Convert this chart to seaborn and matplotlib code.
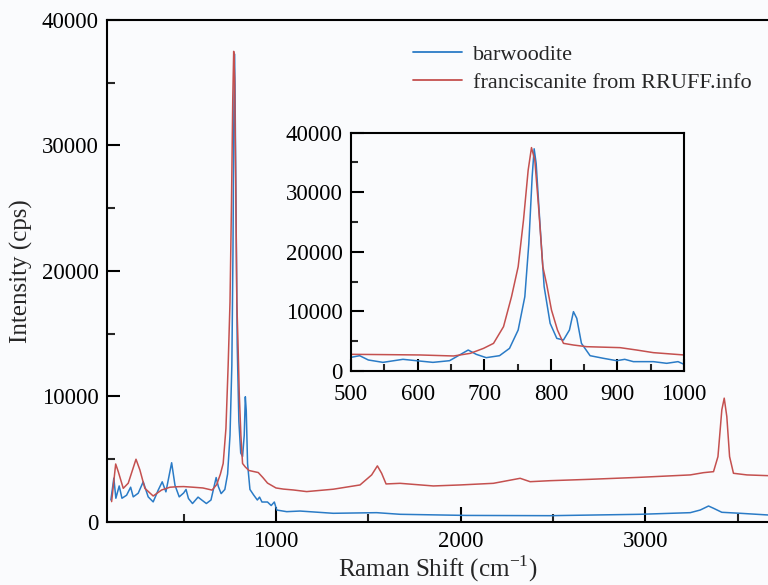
import matplotlib
matplotlib.use("Agg")
import matplotlib.pyplot as plt
import seaborn as sns
import pandas as pd
from matplotlib.ticker import MultipleLocator
from matplotlib.lines import Line2D

# ---- data ----
blue_x = [106, 122, 133, 151, 166, 191, 213, 227, 254, 281, 308, 335, 362, 384, 404, 435, 453, 476,
          500, 513, 526, 548, 578, 598, 623, 648, 663, 676, 688, 703, 723, 738, 751, 761, 767, 772,
          775, 778, 784, 790, 799, 809, 819, 828, 834, 839, 846, 859, 879, 899, 911, 924, 954, 974,
          991, 1004, 1058, 1130, 1310, 1545, 1672, 2033, 2484, 2972, 3243, 3297, 3342, 3369, 3414,
          3514, 3665]
blue_y = [1730, 3470, 1870, 2850, 1870, 2110, 2750, 1980, 2270, 3180, 1980, 1580, 2510, 3180, 2380,
          4700, 2910, 1980, 2290, 2570, 1850, 1450, 1960, 1730, 1450, 1730, 2690, 3520, 2800, 2240,
          2570, 3800, 6880, 12470, 21400, 32600, 37300, 34850, 24200, 14150, 8000, 5480, 5200, 6880,
          9960, 8840, 4640, 2570, 2130, 1730, 1960, 1570, 1570, 1290, 1570, 930, 800, 850, 670, 720,
          590, 500, 480, 590, 720, 930, 1250, 1070, 750, 670, 535]

red_x = [110, 132, 146, 173, 200, 242, 263, 290, 335, 381, 426, 470, 500, 550, 604, 654, 679, 699,
         714, 729, 741, 751, 759, 766, 771, 776, 782, 788, 794, 801, 810, 819, 834, 854, 904, 929,
         954, 1000, 1040, 1094, 1166, 1310, 1455, 1518, 1549, 1572, 1596, 1672, 1852, 1997, 2177,
         2322, 2376, 2484, 2701, 2972, 3243, 3315, 3369, 3393, 3414, 3427, 3441, 3456, 3477, 3550,
         3665]
red_y = [1600, 4600, 3990, 2660, 3070, 4980, 4130, 2660, 2050, 2530, 2750, 2790, 2800, 2750, 2690,
         2520, 2960, 3800, 4640, 7440, 12470, 17510, 25340, 33700, 37500, 35400, 27020, 17510, 14430,
         10240, 6880, 4640, 4360, 4080, 3920, 3520, 3080, 2690, 2600, 2530, 2400, 2590, 2930, 3730,
         4450, 3860, 3010, 3060, 2850, 2930, 3060, 3460, 3190, 3270, 3380, 3540, 3730, 3910, 3990,
         5190, 8920, 9850, 8380, 5190, 3860, 3730, 3670]

series_names = ["barwoodite", "franciscanite from RRUFF.info"]
colors = ["#2a7bc6", "#c4504f"]

df = pd.concat([
    pd.DataFrame({"x": blue_x, "y": blue_y, "s": series_names[0]}),
    pd.DataFrame({"x": red_x, "y": red_y, "s": series_names[1]}),
], ignore_index=True)

sns.set_theme(style="ticks")
plt.rcParams["font.family"] = ["Liberation Serif", "DejaVu Serif"]
plt.rcParams["mathtext.fontset"] = "custom"
plt.rcParams["mathtext.rm"] = "Liberation Serif"

bg = "#fafbfd"
TICK_FS = 16.5
fig = plt.figure(figsize=(7.68, 5.85), dpi=100, facecolor=bg)

ax = fig.add_axes([107/768, (585-521.7)/585, (768-107)/768, (521.7-20)/585])
ax.set_facecolor(bg)
sns.lineplot(data=df, x="x", y="y", hue="s", palette=colors, estimator=None, sort=False,
             linewidth=1.1, ax=ax, legend=False)
ax.set_xlim(85, 3664)
ax.set_ylim(0, 40000)
ax.xaxis.set_major_locator(MultipleLocator(1000))
ax.xaxis.set_minor_locator(MultipleLocator(500))
ax.yaxis.set_major_locator(MultipleLocator(10000))
ax.yaxis.set_minor_locator(MultipleLocator(5000))
ax.spines["right"].set_visible(False)
for s in ["left", "top", "bottom"]:
    ax.spines[s].set_linewidth(1.5)
    ax.spines[s].set_color("black")
ax.tick_params(axis="both", which="major", direction="in", width=1.5, labelsize=TICK_FS,
               colors="black", right=False, top=False)
ax.tick_params(axis="y", which="major", length=9, pad=6)
ax.tick_params(axis="x", which="major", length=10.5, pad=7)
ax.tick_params(axis="both", which="minor", direction="in", width=1.5, length=5.5)
ax.set_xlabel(r"Raman Shift (cm$^{\mathregular{-1}}$)", fontsize=18, labelpad=1)
ax.set_ylabel("Intensity (cps)", fontsize=18, labelpad=6)

handles = [Line2D([], [], color=c, lw=1.3) for c in colors]
ax.legend(handles, series_names, loc="upper left",
          bbox_to_anchor=((413-107)/661, (521.7-44)/501.7), frameon=False, fontsize=16,
          borderpad=0, borderaxespad=0, handlelength=2.2, handletextpad=0.5, labelspacing=0.35)

# inset
axi = fig.add_axes([351/768, (585-371)/585, (684-351)/768, (371-132.7)/585])
axi.set_facecolor(bg)
sns.lineplot(data=df, x="x", y="y", hue="s", palette=colors, estimator=None, sort=False,
             linewidth=1.1, ax=axi, legend=False)
axi.set_xlim(500, 1000)
axi.set_ylim(0, 40000)
axi.xaxis.set_major_locator(MultipleLocator(100))
axi.xaxis.set_minor_locator(MultipleLocator(50))
axi.yaxis.set_major_locator(MultipleLocator(10000))
axi.yaxis.set_minor_locator(MultipleLocator(5000))
for s in axi.spines.values():
    s.set_linewidth(1.5)
    s.set_color("black")
axi.tick_params(axis="both", which="major", direction="in", width=1.5, length=9,
                labelsize=TICK_FS, colors="black")
axi.tick_params(axis="y", which="major", pad=6)
axi.tick_params(axis="x", which="major", pad=9)
axi.tick_params(axis="both", which="minor", direction="in", width=1.5, length=5)
axi.set_xlabel("")
axi.set_ylabel("")

fig.savefig("out.png", dpi=100, facecolor=bg)
